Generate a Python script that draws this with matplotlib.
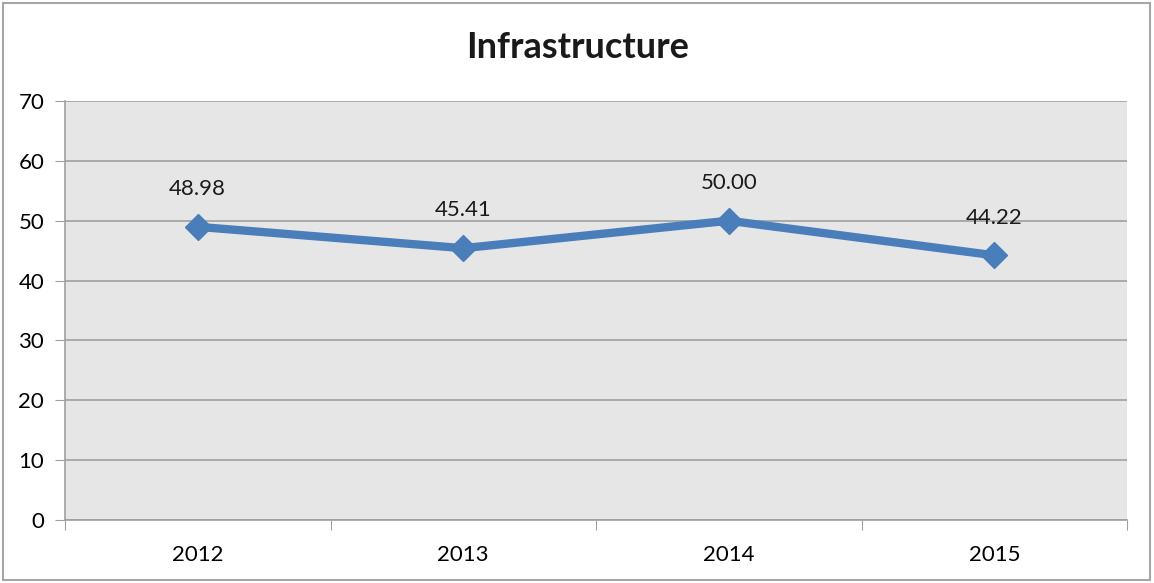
import matplotlib.pyplot as plt
from matplotlib.patches import Rectangle

plt.rcParams['font.family'] = ['Lato', 'DejaVu Sans']

years = ["2012", "2013", "2014", "2015"]
values = [48.98, 45.41, 50.00, 44.22]
value_labels = ["48.98", "45.41", "50.00", "44.22"]

fig = plt.figure(figsize=(11.54, 5.83), dpi=100)
ax = fig.add_axes([65 / 1154, 63 / 583, 1062 / 1154, 419 / 583])

# outer chart border
fig.patches.append(Rectangle((3 / 1154, 3 / 583), 1147 / 1154, 577 / 583,
                             transform=fig.transFigure, fill=False,
                             edgecolor="#a6a6a6", linewidth=1.5))

ax.set_facecolor("#e6e6e6")
x = list(range(len(years)))
ax.plot(x, values, color="#4a7ebb", linewidth=6, marker="D",
        markersize=13, markerfacecolor="#4a7ebb", markeredgecolor="#4a7ebb",
        zorder=3)

for xi, v, lab in zip(x, values, value_labels):
    ax.annotate(lab, (xi, v), xytext=(0, 20), textcoords="offset points",
                ha="center", va="bottom", fontsize=16, color="#1a1a1a")

ax.set_xlim(-0.5, 3.5)
ax.set_ylim(0, 70)
ax.set_yticks(range(0, 71, 10))
ax.set_xticks([-0.5, 0.5, 1.5, 2.5, 3.5])
ax.set_xticklabels([])
ax.set_xticks(x, minor=True)
ax.set_xticklabels(years, minor=True)
ax.tick_params(axis="x", which="minor", length=0, pad=18, labelsize=16)
ax.tick_params(axis="x", which="major", length=7, color="#a0a0a0", direction="out")
ax.tick_params(axis="y", length=7, color="#a0a0a0", labelsize=16, pad=8)

ax.grid(axis="y", color="#a0a0a0", linewidth=1.2)
ax.set_axisbelow(True)
for s in ["top", "right"]:
    ax.spines[s].set_visible(False)
for s in ["left", "bottom"]:
    ax.spines[s].set_color("#a0a0a0")
    ax.spines[s].set_linewidth(1.2)

fig.text(578 / 1154, 1 - 48 / 583, "Infrastructure", ha="center", va="center",
         fontsize=26, fontweight="bold", color="#1a1a1a")

fig.savefig("out.png", dpi=100)
